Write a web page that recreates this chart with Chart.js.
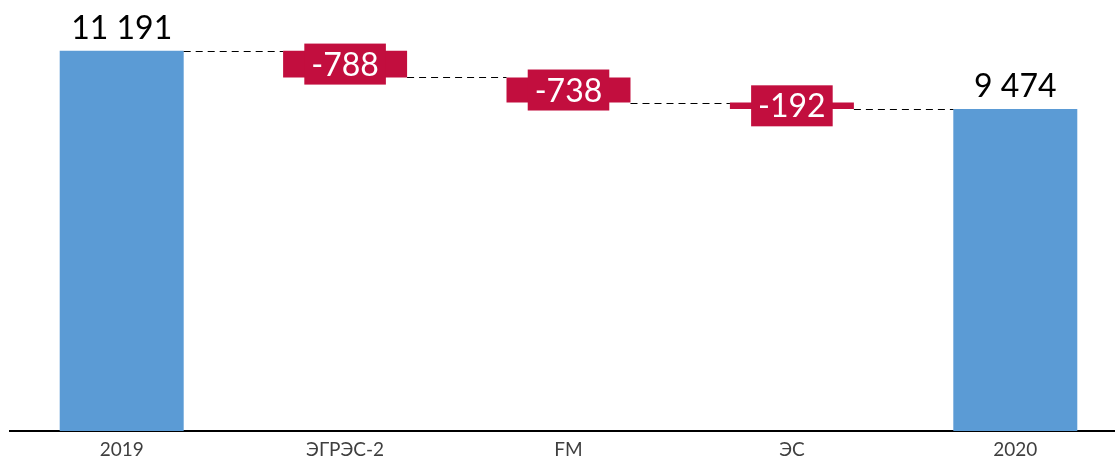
<!DOCTYPE html>
<html>
<head>
<meta charset="utf-8">
<script src="https://cdn.jsdelivr.net/npm/chart.js@4"></script>
<style>
	html, body { margin: 0; padding: 0; background: #fff; overflow: hidden; }
	#main-chart { display: block; }
</style>
</head>
<body>
<canvas id="main-chart" width="1127" height="457"></canvas>
<script>
// values
var categories = ['2019', 'ЭГРЭС-2', 'FM', 'ЭС', '2020'];
var startTotal = 11191;
var endTotal = 9474;
var changes = [-788, -738, -192];

var blue = '#5B9BD5';
var red = '#C20E3E';

function fmt(v) {
	return String(v).replace(/\B(?=(\d{3})+(?!\d))/g, ' ');
}

// build floating ranges for the waterfall
var ranges = [[0, startTotal]];
var levels = [startTotal];
var labels = [fmt(startTotal)];
var colors = [blue];
var running = startTotal;
changes.forEach(function (c) {
	ranges.push([running, running + c]);
	running += c;
	levels.push(running);
	labels.push(fmt(c));
	colors.push(red);
});
ranges.push([0, endTotal]);
levels.push(endTotal);
labels.push(fmt(endTotal));
colors.push(blue);

var waterfallLabels = {
	id: 'waterfallLabels',
	afterDatasetsDraw(chart) {
		var ctx = chart.ctx;
		var meta = chart.getDatasetMeta(0);
		var y = chart.scales.y;
		ctx.save();

		// dashed connectors
		ctx.setLineDash([7, 5]);
		ctx.lineWidth = 1;
		ctx.strokeStyle = '#000';
		for (var i = 0; i < meta.data.length - 1; i++) {
			var a = meta.data[i], b = meta.data[i + 1];
			var yy = Math.round(y.getPixelForValue(levels[i])) + 0.5;
			ctx.beginPath();
			ctx.moveTo(a.x + a.width / 2, yy);
			ctx.lineTo(b.x - b.width / 2, yy);
			ctx.stroke();
		}
		ctx.setLineDash([]);

		ctx.font = '32px Lato';
		ctx.textAlign = 'center';
		ctx.textBaseline = 'alphabetic';
		meta.data.forEach(function (bar, i) {
			var r = ranges[i];
			if (colors[i] === blue) {
				ctx.fillStyle = '#000';
				ctx.fillText(labels[i], bar.x, y.getPixelForValue(r[1]) - 12);
			} else {
				var cy = (y.getPixelForValue(r[0]) + y.getPixelForValue(r[1])) / 2;
				var w = ctx.measureText(labels[i]).width + 14;
				ctx.fillStyle = red;
				ctx.fillRect(bar.x - w / 2, cy - 20.5, w, 41);
				ctx.fillStyle = '#fff';
				ctx.fillText(labels[i], bar.x, cy + 11.5);
			}
		});
		ctx.restore();
	}
};

var ctx = document.getElementById('main-chart');
var chart = new Chart(ctx, {
	type: 'bar',
	data: {
		labels: categories,
		datasets: [{
			data: ranges,
			backgroundColor: colors,
			borderWidth: 0,
			categoryPercentage: 1,
			barPercentage: 0.555
		}]
	},
	options: {
		responsive: false,
		animation: false,
		devicePixelRatio: 1,
		layout: { padding: { left: 10, right: 0, top: 0, bottom: 0 } },
		plugins: {
			legend: { display: false },
			tooltip: { enabled: false }
		},
		scales: {
			x: {
				grid: { display: false, drawTicks: false },
				border: { display: true, color: '#000', width: 2 },
				ticks: {
					color: '#3f3f3f',
					font: { family: 'Lato', size: 19 },
					padding: 7
				},
				afterFit: function (scale) { scale.height = 26; }
			},
			y: {
				display: false,
				min: 0,
				max: 12683
			}
		}
	},
	plugins: [waterfallLabels]
});
</script>
</body>
</html>
